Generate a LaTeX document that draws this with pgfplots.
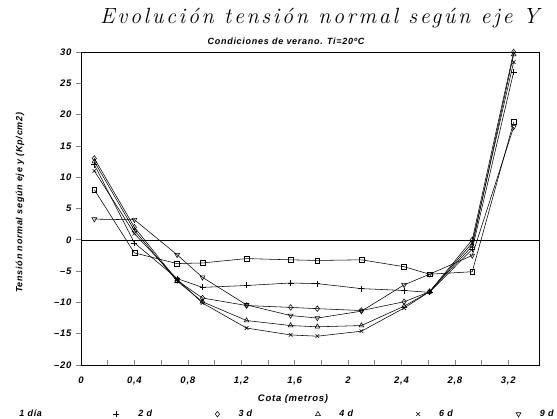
\documentclass[border=0pt]{standalone}
\usepackage{fontspec}
\usepackage{pgfplots}
\usepackage{pgfplotstable}
\pgfplotsset{compat=1.18}
\newfontfamily\lab{Liberation Sans}[LetterSpace=8]
\newfontfamily\titfont{Latin Modern Roman}[LetterSpace=12.2]

\pgfplotstableread{
x     s1    s2    s3    s4    s5    s6
0.10  8.0   12.0  13.0  12.5  11.0  3.3
0.40  -2.1  -0.5  2.0   1.5   1.0   3.2
0.72  -3.8  -6.2  -6.5  -6.6  -6.3  -2.4
0.91  -3.7  -7.6  -9.3  -9.9  -10.1 -6.0
1.24  -3.0  -7.3  -10.5 -12.9 -14.1 -10.4
1.57  -3.2  -6.9  -10.8 -13.7 -15.2 -12.1
1.77  -3.3  -7.0  -11.0 -13.9 -15.4 -12.5
2.10  -3.2  -7.8  -11.3 -13.7 -14.6 -11.4
2.42  -4.3  -8.1  -9.9  -10.6 -10.9 -7.2
2.61  -5.5  -8.4  -8.3  -8.3  -8.3  -5.5
2.93  -5.1  -1.5  0.0   -1.0  -0.5  -2.5
3.24  18.8  26.8  30.0  29.6  28.4  18.0
}\data

\begin{document}
\begin{tikzpicture}
\path[use as bounding box] (0,0) rectangle (557pt,419pt);
\begin{axis}[
  at={(81pt,54pt)}, anchor=south west,
  scale only axis, width=458pt, height=313pt,
  xmin=0, xmax=3.43, ymin=-20, ymax=30,
  axis line style={line width=0.7pt},
  tick pos=left, tick align=inside,
  major tick length=5pt, minor tick length=5pt,
  ytick style={xshift=-5pt, line width=0.6pt},
  xtick style={line width=0.6pt},
  xtick={0,0.4,0.8,1.2,1.6,2,2.4,2.8,3.2},
  minor xtick={0.2,0.6,1.0,1.4,1.8,2.2,2.6,3.0},
  xticklabels={0,{0,4},{0,8},{1,2},{1,6},2,{2,4},{2,8},{3,2}},
  ytick={-20,-15,-10,-5,0,5,10,15,20,25,30},
  yticklabels={–20,–15,–10,–5,0,5,10,15,20,25,30},
  tick label style={font=\lab\bfseries\itshape\fontsize{9.5}{11}\selectfont},
  yticklabel style={xshift=-6pt},
  xticklabel style={yshift=-8pt},
  xlabel={Cota (metros)},
  xlabel style={at={(axis description cs:0.463,0)}, anchor=base, yshift=-37pt,
    font=\lab\bfseries\itshape\fontsize{9.5}{11}\selectfont},
  ylabel={Tensión normal según eje y (Kp/cm2)},
  ylabel style={at={(axis description cs:-0.133,0.518)}, anchor=center,
    font=\lab\bfseries\itshape\fontsize{9}{10}\selectfont},
  legend columns=6,
  legend image code/.code={\draw[#1] plot coordinates {(0pt,0pt)};},
  legend style={at={(axis description cs:-0.146,-0.157)}, anchor=west,
    draw=none, fill=none,
    font=\lab\bfseries\itshape\fontsize{9}{10}\selectfont,
    /tikz/every odd column/.append style={column sep=17pt},
    /tikz/every even column/.append style={column sep=15pt}},
  every axis plot/.append style={line width=0.55pt, black},
]
\addlegendimage{empty legend}
\addlegendentry{\makebox[60pt][l]{\hspace*{-17pt}1 día}}
\addplot[forget plot, line width=0.5pt] coordinates {(0,0) (3.43,0)};
\addplot[forget plot, mark=square, mark size=2.4pt, mark options={solid, fill=white}] table[x=x, y=s1] {\data};
\addplot[mark=+, mark size=3pt, mark options={solid}] table[x=x, y=s2] {\data};
\addlegendentry{\makebox[60pt][l]{2 d}}
\addplot[mark=diamond, mark size=2.8pt, mark options={solid, fill=white}] table[x=x, y=s3] {\data};
\addlegendentry{\makebox[60pt][l]{3 d}}
\addplot[mark=triangle, mark size=2.8pt, mark options={solid, fill=white}] table[x=x, y=s4] {\data};
\addlegendentry{\makebox[60pt][l]{4 d}}
\addplot[mark=x, mark size=2.6pt, mark options={solid}] table[x=x, y=s5] {\data};
\addlegendentry{\makebox[60pt][l]{6 d}}
\addplot[mark=triangle, mark size=2.8pt, mark options={solid, fill=white, rotate=180}] table[x=x, y=s6] {\data};
\addlegendentry{\makebox[60pt][l]{9 d}}
\end{axis}
\node[anchor=base west, inner sep=0pt, font=\titfont\itshape\fontsize{22}{26}\selectfont] at (100pt,395pt) {Evolución tensión normal según eje Y};
\node[anchor=base, font=\lab\bfseries\itshape\fontsize{9}{10}\selectfont] at (286pt,374pt) {Condiciones de verano. Ti=20ºC};
\end{tikzpicture}
\end{document}
